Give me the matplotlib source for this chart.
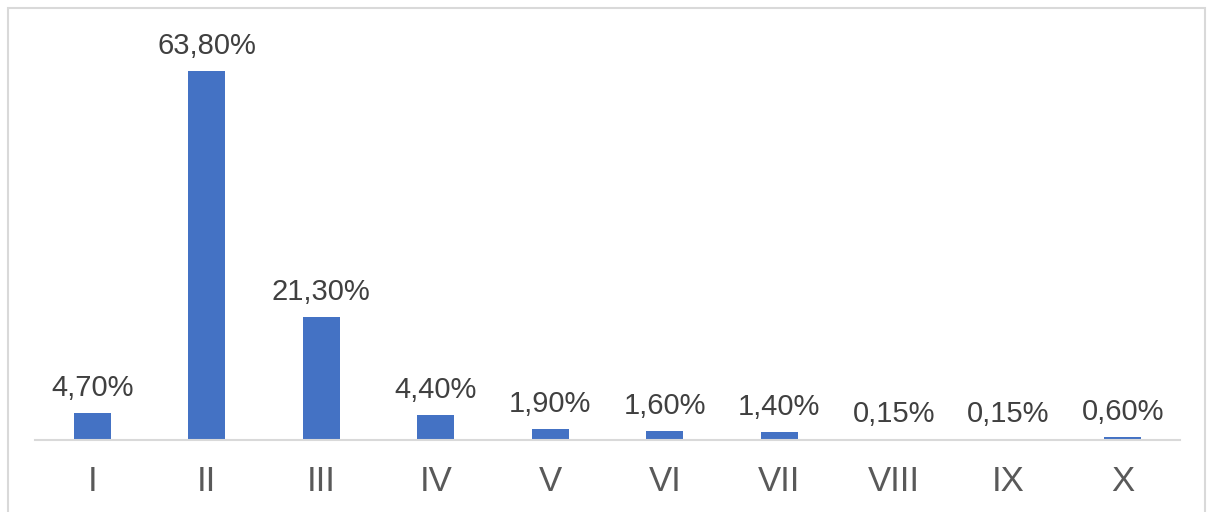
import matplotlib
matplotlib.use("Agg")
import matplotlib.pyplot as plt
from matplotlib.patches import Rectangle

categories = ["I", "II", "III", "IV", "V", "VI", "VII", "VIII", "IX", "X"]
values = [4.70, 63.80, 21.30, 4.40, 1.90, 1.60, 1.40, 0.15, 0.15, 0.60]
labels = ["4,70%", "63,80%", "21,30%", "4,40%", "1,90%", "1,60%", "1,40%", "0,15%", "0,15%", "0,60%"]

plt.rcParams['font.family'] = ['Liberation Sans', 'DejaVu Sans']

W, H = 1212, 512
fig = plt.figure(figsize=(W / 100, H / 100), dpi=100)

# axes placed by pixel: baseline at y=440, x from 35 to 1180
left, right, base = 35, 1180, 440
ymax = 70
px_per_unit = 369 / 63.8
top = base - ymax * px_per_unit
ax = fig.add_axes([left / W, 1 - base / H, (right - left) / W, (base - top) / H])

x = range(len(categories))
ax.bar(x, values, width=0.323, color="#4472C4", zorder=2)

for xi, v, lab in zip(x, values, labels):
    ax.annotate(lab, (xi, v), xytext=(0, 12), textcoords="offset points",
                ha="center", va="baseline", fontsize=21, color="#404040")

ax.set_xlim(-0.5, len(categories) - 0.5)
ax.set_ylim(0, ymax)
ax.set_xticks(list(x))
ax.set_xticklabels(categories, fontsize=25, color="#595959")
ax.tick_params(axis="x", length=0, pad=18)
ax.set_yticks([])
for s in ["top", "right", "left"]:
    ax.spines[s].set_visible(False)
ax.spines["bottom"].set_color("#d9d9d9")
ax.spines["bottom"].set_linewidth(1.5)
ax.patch.set_alpha(0)

# light grey frame around the chart area
fig.patches.append(Rectangle((8 / W, -0.05), (1205 - 8) / W, (H - 8) / H + 0.05,
                             transform=fig.transFigure, fill=False,
                             edgecolor="#d9d9d9", linewidth=1.5))

fig.savefig("out.png", dpi=100)
